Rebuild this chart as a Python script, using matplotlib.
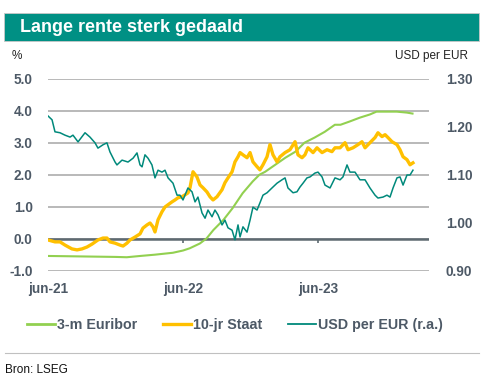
import matplotlib
matplotlib.use("Agg")
import matplotlib.pyplot as plt
from matplotlib.patches import Rectangle
from matplotlib.lines import Line2D

# ---- data (months since jun-2021) ----
euribor_t = [0, 2, 4, 6, 7, 8.2, 9.5, 11.1, 12.0, 12.6, 13.5, 14.1, 14.7, 15.6, 16.4, 17.3, 18.2,
             18.8, 19.3, 20.2, 21.1, 22.0, 22.8, 23.7, 24.6, 25.5, 26.0, 26.8, 27.7, 28.6, 29.2,
             30.1, 31.0, 31.9, 32.4]
euribor_v = [-0.53, -0.54, -0.55, -0.56, -0.57, -0.53, -0.49, -0.43, -0.36, -0.29, -0.14, 0.02, 0.28,
             0.60, 0.96, 1.43, 1.80, 2.01, 2.10, 2.32, 2.54, 2.73, 3.01, 3.17, 3.35, 3.57, 3.57, 3.67,
             3.79, 3.89, 3.98, 3.98, 3.98, 3.95, 3.92]

staat_t = [0.0, 0.62, 1.07, 1.51, 2.13, 2.58, 3.02, 3.47, 3.91, 4.44, 4.89, 5.24, 5.51, 5.96, 6.40,
           6.67, 7.02, 7.29, 7.73, 8.18, 8.44, 8.80, 9.07, 9.33, 9.51, 9.78, 10.13, 10.40, 10.67,
           11.02, 11.29, 11.56, 11.91, 12.18, 12.44, 12.62, 12.89, 13.24, 13.51, 13.78, 14.13,
           14.40, 14.67, 15.02, 15.47, 15.73, 16.00, 16.36, 16.62, 16.89, 17.07, 17.33, 17.69,
           17.96, 18.22, 18.58, 18.84, 19.11, 19.47, 19.73, 20.00, 20.36, 20.62, 21.07, 21.51,
           21.96, 22.22, 22.58, 22.84, 23.11, 23.56, 23.91, 24.36, 24.80, 25.24, 25.51, 25.96,
           26.40, 26.67, 27.11, 27.56, 27.91, 28.18, 28.62, 29.07, 29.33, 29.69, 29.96, 30.22,
           30.58, 31.02, 31.29, 31.56, 31.91, 32.18, 32.44]
staat_v = [-0.03, -0.09, -0.09, -0.19, -0.31, -0.34, -0.31, -0.25, -0.16, -0.03, 0.03, 0.03, -0.09,
           -0.13, -0.19, -0.22, -0.13, -0.03, 0.06, 0.16, 0.34, 0.44, 0.50, 0.38, 0.22, 0.60, 0.85,
           1.00, 1.07, 1.16, 1.22, 1.29, 1.32, 1.38, 1.44, 1.60, 2.10, 1.94, 1.69, 1.60, 1.47, 1.32,
           1.22, 1.32, 1.54, 1.76, 1.91, 2.10, 2.41, 2.57, 2.70, 2.63, 2.54, 2.70, 2.41, 2.26, 2.16,
           2.32, 2.57, 2.95, 2.63, 2.41, 2.57, 2.70, 2.79, 3.04, 2.63, 2.54, 2.63, 2.85, 2.70, 2.85,
           2.70, 2.79, 2.73, 2.85, 2.85, 3.01, 2.79, 2.85, 2.95, 3.04, 2.85, 3.01, 3.17, 3.32, 3.20,
           3.26, 3.17, 3.04, 2.95, 2.79, 2.57, 2.48, 2.32, 2.38]

usd_t = [0.0, 0.36, 0.62, 1.07, 1.51, 1.96, 2.22, 2.67, 3.29, 3.73, 4.18, 4.44, 4.89, 5.24, 5.51,
         5.96, 6.13, 6.58, 7.11, 7.56, 7.91, 8.18, 8.36, 8.62, 8.89, 9.24, 9.51, 9.78, 10.13, 10.40,
         10.67, 11.11, 11.47, 11.73, 12.00, 12.44, 12.80, 13.07, 13.33, 13.69, 13.96, 14.22, 14.58,
         14.84, 15.11, 15.47, 15.73, 16.00, 16.36, 16.62, 16.89, 17.07, 17.33, 17.69, 17.96, 18.22,
         18.58, 18.84, 19.11, 19.47, 19.91, 20.36, 20.80, 21.07, 21.33, 21.78, 22.13, 22.40, 22.67,
         23.02, 23.29, 23.73, 24.00, 24.36, 24.62, 25.07, 25.51, 25.96, 26.22, 26.58, 26.84, 27.29,
         27.73, 28.18, 28.62, 29.07, 29.33, 29.78, 30.13, 30.40, 30.67, 31.02, 31.29, 31.56, 31.91,
         32.18, 32.44]
usd_v = [1.223, 1.215, 1.190, 1.188, 1.183, 1.179, 1.183, 1.169, 1.188, 1.179, 1.167, 1.156, 1.163,
         1.167, 1.148, 1.127, 1.121, 1.131, 1.127, 1.135, 1.146, 1.121, 1.117, 1.142, 1.135, 1.121,
         1.094, 1.110, 1.106, 1.110, 1.094, 1.083, 1.058, 1.058, 1.048, 1.073, 1.065, 1.044, 1.054,
         1.021, 1.010, 1.027, 1.013, 1.027, 1.017, 0.996, 1.006, 0.990, 0.985, 0.965, 0.996, 0.971,
         0.992, 0.981, 1.006, 1.033, 1.027, 1.042, 1.058, 1.063, 1.073, 1.083, 1.090, 1.094, 1.073,
         1.063, 1.065, 1.075, 1.083, 1.094, 1.096, 1.104, 1.106, 1.096, 1.079, 1.073, 1.094, 1.090,
         1.096, 1.121, 1.106, 1.106, 1.090, 1.090, 1.073, 1.058, 1.052, 1.054, 1.058, 1.054, 1.073,
         1.094, 1.096, 1.079, 1.100, 1.100, 1.110]

x_ticks = [0, 12, 24]
x_labels = ["jun-21", "jun-22", "jun-23"]
left_ticks = [-1, 0, 1, 2, 3, 4, 5]
right_ticks = [0.90, 1.00, 1.10, 1.20, 1.30]

title = "Lange rente sterk gedaald"
labels = ["3-m Euribor", "10-jr Staat", "USD per EUR (r.a.)"]

# ---- style ----
C_GREEN = "#92D050"
C_ORANGE = "#FFC000"
C_TEAL = "#00897B"
C_TXT = "#4D5966"
C_GRID = "#A6A6A6"
C_ZERO = "#5E6A71"
FONT = "Liberation Sans"
plt.rcParams["font.family"] = [FONT, "DejaVu Sans"]

W, H = 486, 384
fig = plt.figure(figsize=(W / 100, H / 100), dpi=100)

# title bar
fig.patches.append(Rectangle((4 / W, 1 - 41 / H), 475 / W, 28.5 / H, transform=fig.transFigure,
                             facecolor="#009084", edgecolor="#c8c8c8", lw=0.6))
fig.text(20 / W, 1 - 27 / H, title, color="white", fontsize=13, fontweight="bold", va="center")
fig.text(12 / W, 1 - 56 / H, "%", fontsize=8.5, va="center", color="#222222")
fig.text(468 / W, 1 - 56 / H, "USD per EUR", fontsize=8.5, va="center", ha="right", color="#222222")

# axes
l, r, t, b = 48, 429, 79, 271
ax = fig.add_axes([l / W, 1 - b / H, (r - l) / W, (b - t) / H])
ax.set_xlim(0, (r - l) * 12 / 135)
ax.set_ylim(-1, 5)
ax.set_yticks(left_ticks)
ax.set_yticklabels([f"{v:.1f}" for v in left_ticks])
ax.set_xticks(x_ticks)
ax.set_xticklabels(x_labels)
for s in ax.spines.values():
    s.set_visible(False)
ax.tick_params(axis="both", length=0, labelsize=9.8, labelcolor=C_TXT)
ax.tick_params(axis="y", pad=11)
ax.tick_params(axis="x", pad=8)
for lab in ax.get_xticklabels() + ax.get_yticklabels():
    lab.set_fontweight("bold")
ax.grid(axis="y", color=C_GRID, lw=1.1)
ax.set_axisbelow(True)
ax.axhline(0, color=C_ZERO, lw=1.8, zorder=1.5)
ax.vlines(x_ticks[1:], -0.14, 0, color=C_ZERO, lw=1.2, zorder=1.5)

ax.plot(euribor_t, euribor_v, color=C_GREEN, lw=1.5, zorder=3)
ax.plot(staat_t, staat_v, color=C_ORANGE, lw=2.4, zorder=4)

ax2 = ax.twinx()
ax2.set_ylim(0.9, 1.3)
ax2.set_yticks(right_ticks)
ax2.set_yticklabels([f"{v:.2f}" for v in right_ticks])
for s in ax2.spines.values():
    s.set_visible(False)
ax2.tick_params(axis="y", length=0, labelsize=9.8, labelcolor=C_TXT, pad=12)
for lab in ax2.get_yticklabels():
    lab.set_fontweight("bold")
ax2.plot(usd_t, usd_v, color=C_TEAL, lw=1.1, zorder=5)

# legend
handles = [Line2D([], [], color=C_GREEN, lw=2),
           Line2D([], [], color=C_ORANGE, lw=2.4),
           Line2D([], [], color=C_TEAL, lw=1.3)]
leg = fig.legend(handles, labels, ncol=3, loc="center", bbox_to_anchor=(0.483, 1 - 325 / H),
                 frameon=False, handlelength=2.0, handletextpad=0.1, columnspacing=1.8,
                 prop={"family": FONT, "weight": "bold", "size": 10.3})
for txt in leg.get_texts():
    txt.set_color(C_TXT)

# footer
fig.add_artist(Line2D([5 / W, 479 / W], [1 - 353 / H, 1 - 353 / H], transform=fig.transFigure,
                      color="#c0c0c0", lw=0.8))
fig.text(5 / W, 1 - 370 / H, "Bron: LSEG", fontsize=8.5, va="center", color="#111111")

fig.savefig("out.png", dpi=100)
